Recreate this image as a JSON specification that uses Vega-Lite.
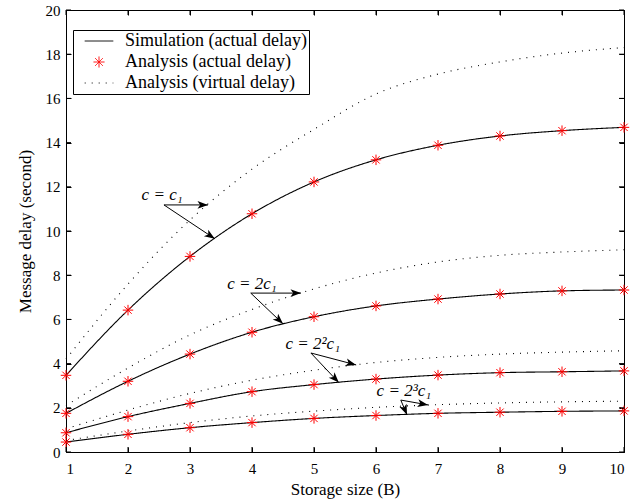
{
  "$schema": "https://vega.github.io/schema/vega-lite/v6.json",
  "width": 558,
  "height": 442,
  "autosize": {"type": "none"},
  "padding": {"left": 66, "top": 10, "right": 20, "bottom": 50},
  "background": "white",
  "config": {
    "view": {"stroke": "black", "strokeWidth": 1},
    "font": "Liberation Serif",
    "axis": {
      "grid": false, "domain": false, "ticks": true, "tickColor": "black", "tickSize": 5, "tickWidth": 1, "tickOpacity": 1, "offset": -5, "zindex": 2,
      "labelFont": "Liberation Serif", "labelFontSize": 15, "labelColor": "black",
      "titleFont": "Liberation Serif", "titleFontSize": 17, "titleFontWeight": "normal", "titleColor": "black"
    },
    "legend": {
      "orient": "none", "legendX": 7, "legendY": 20,
      "strokeColor": "black", "fillColor": "white", "padding": 2,
      "labelFont": "Liberation Serif", "labelFontSize": 18, "labelColor": "black",
      "symbolSize": 121, "symbolStrokeWidth": 1, "symbolOffset": 15, "labelOffset": 17,
      "rowPadding": 3, "labelLimit": 400
    }
  },
  "datasets": {
    "curves": [
      {"c": "c1", "B": 1, "Simulation (actual delay)": 3.47, "Analysis (actual delay)": 3.47, "Analysis (virtual delay)": 4.2},
      {"c": "c1", "B": 2, "Simulation (actual delay)": 6.42, "Analysis (actual delay)": 6.42, "Analysis (virtual delay)": 7.6},
      {"c": "c1", "B": 3, "Simulation (actual delay)": 8.85, "Analysis (actual delay)": 8.85, "Analysis (virtual delay)": 10.5},
      {"c": "c1", "B": 4, "Simulation (actual delay)": 10.78, "Analysis (actual delay)": 10.78, "Analysis (virtual delay)": 12.8},
      {"c": "c1", "B": 5, "Simulation (actual delay)": 12.22, "Analysis (actual delay)": 12.22, "Analysis (virtual delay)": 14.6},
      {"c": "c1", "B": 6, "Simulation (actual delay)": 13.22, "Analysis (actual delay)": 13.22, "Analysis (virtual delay)": 16.2},
      {"c": "c1", "B": 7, "Simulation (actual delay)": 13.88, "Analysis (actual delay)": 13.88, "Analysis (virtual delay)": 17.1},
      {"c": "c1", "B": 8, "Simulation (actual delay)": 14.3, "Analysis (actual delay)": 14.3, "Analysis (virtual delay)": 17.65},
      {"c": "c1", "B": 9, "Simulation (actual delay)": 14.54, "Analysis (actual delay)": 14.54, "Analysis (virtual delay)": 18.05},
      {"c": "c1", "B": 10, "Simulation (actual delay)": 14.69, "Analysis (actual delay)": 14.69, "Analysis (virtual delay)": 18.3},
      {"c": "2c1", "B": 1, "Simulation (actual delay)": 1.75, "Analysis (actual delay)": 1.75, "Analysis (virtual delay)": 2.1},
      {"c": "2c1", "B": 2, "Simulation (actual delay)": 3.2, "Analysis (actual delay)": 3.2, "Analysis (virtual delay)": 3.8},
      {"c": "2c1", "B": 3, "Simulation (actual delay)": 4.43, "Analysis (actual delay)": 4.43, "Analysis (virtual delay)": 5.3},
      {"c": "2c1", "B": 4, "Simulation (actual delay)": 5.42, "Analysis (actual delay)": 5.42, "Analysis (virtual delay)": 6.45},
      {"c": "2c1", "B": 5, "Simulation (actual delay)": 6.12, "Analysis (actual delay)": 6.12, "Analysis (virtual delay)": 7.38},
      {"c": "2c1", "B": 6, "Simulation (actual delay)": 6.61, "Analysis (actual delay)": 6.61, "Analysis (virtual delay)": 8.1},
      {"c": "2c1", "B": 7, "Simulation (actual delay)": 6.92, "Analysis (actual delay)": 6.92, "Analysis (virtual delay)": 8.6},
      {"c": "2c1", "B": 8, "Simulation (actual delay)": 7.15, "Analysis (actual delay)": 7.15, "Analysis (virtual delay)": 8.9},
      {"c": "2c1", "B": 9, "Simulation (actual delay)": 7.29, "Analysis (actual delay)": 7.29, "Analysis (virtual delay)": 9.05},
      {"c": "2c1", "B": 10, "Simulation (actual delay)": 7.33, "Analysis (actual delay)": 7.33, "Analysis (virtual delay)": 9.15},
      {"c": "4c1", "B": 1, "Simulation (actual delay)": 0.87, "Analysis (actual delay)": 0.87, "Analysis (virtual delay)": 1.05},
      {"c": "4c1", "B": 2, "Simulation (actual delay)": 1.6, "Analysis (actual delay)": 1.6, "Analysis (virtual delay)": 1.9},
      {"c": "4c1", "B": 3, "Simulation (actual delay)": 2.2, "Analysis (actual delay)": 2.2, "Analysis (virtual delay)": 2.65},
      {"c": "4c1", "B": 4, "Simulation (actual delay)": 2.73, "Analysis (actual delay)": 2.73, "Analysis (virtual delay)": 3.25},
      {"c": "4c1", "B": 5, "Simulation (actual delay)": 3.05, "Analysis (actual delay)": 3.05, "Analysis (virtual delay)": 3.7},
      {"c": "4c1", "B": 6, "Simulation (actual delay)": 3.3, "Analysis (actual delay)": 3.3, "Analysis (virtual delay)": 4.05},
      {"c": "4c1", "B": 7, "Simulation (actual delay)": 3.48, "Analysis (actual delay)": 3.48, "Analysis (virtual delay)": 4.28},
      {"c": "4c1", "B": 8, "Simulation (actual delay)": 3.59, "Analysis (actual delay)": 3.59, "Analysis (virtual delay)": 4.43},
      {"c": "4c1", "B": 9, "Simulation (actual delay)": 3.63, "Analysis (actual delay)": 3.63, "Analysis (virtual delay)": 4.52},
      {"c": "4c1", "B": 10, "Simulation (actual delay)": 3.67, "Analysis (actual delay)": 3.67, "Analysis (virtual delay)": 4.58},
      {"c": "8c1", "B": 1, "Simulation (actual delay)": 0.45, "Analysis (actual delay)": 0.45, "Analysis (virtual delay)": 0.52},
      {"c": "8c1", "B": 2, "Simulation (actual delay)": 0.8, "Analysis (actual delay)": 0.8, "Analysis (virtual delay)": 0.95},
      {"c": "8c1", "B": 3, "Simulation (actual delay)": 1.1, "Analysis (actual delay)": 1.1, "Analysis (virtual delay)": 1.33},
      {"c": "8c1", "B": 4, "Simulation (actual delay)": 1.33, "Analysis (actual delay)": 1.33, "Analysis (virtual delay)": 1.63},
      {"c": "8c1", "B": 5, "Simulation (actual delay)": 1.52, "Analysis (actual delay)": 1.52, "Analysis (virtual delay)": 1.85},
      {"c": "8c1", "B": 6, "Simulation (actual delay)": 1.65, "Analysis (actual delay)": 1.65, "Analysis (virtual delay)": 2.02},
      {"c": "8c1", "B": 7, "Simulation (actual delay)": 1.75, "Analysis (actual delay)": 1.75, "Analysis (virtual delay)": 2.14},
      {"c": "8c1", "B": 8, "Simulation (actual delay)": 1.8, "Analysis (actual delay)": 1.8, "Analysis (virtual delay)": 2.22},
      {"c": "8c1", "B": 9, "Simulation (actual delay)": 1.84, "Analysis (actual delay)": 1.84, "Analysis (virtual delay)": 2.27},
      {"c": "8c1", "B": 10, "Simulation (actual delay)": 1.86, "Analysis (actual delay)": 1.86, "Analysis (virtual delay)": 2.3}
    ],
    "arrows": [
      {"xs": 2.58, "ys": 11.18, "xe": 3.29, "ye": 11.18},
      {"xs": 2.58, "ys": 11.18, "xe": 3.4, "ye": 9.65},
      {"xs": 3.98, "ys": 7.19, "xe": 4.79, "ye": 7.19},
      {"xs": 3.98, "ys": 7.19, "xe": 4.5, "ye": 5.8},
      {"xs": 4.95, "ys": 4.48, "xe": 5.68, "ye": 3.94},
      {"xs": 4.95, "ys": 4.48, "xe": 5.4, "ye": 3.14},
      {"xs": 6.4, "ys": 2.35, "xe": 6.84, "ye": 2.13},
      {"xs": 6.4, "ys": 2.35, "xe": 6.5, "ye": 1.68}
    ],
    "labels": [
      {"label": "c = c₁", "x": 2.55, "y": 11.4},
      {"label": "c = 2c₁", "x": 4.0, "y": 7.38},
      {"label": "c = 2²c₁", "x": 4.98, "y": 4.66},
      {"label": "c = 2³c₁", "x": 6.45, "y": 2.53}
    ],
    "xticks": [{"v": 1}, {"v": 2}, {"v": 3}, {"v": 4}, {"v": 5}, {"v": 6}, {"v": 7}, {"v": 8}, {"v": 9}, {"v": 10}],
    "yticks": [{"v": 0}, {"v": 2}, {"v": 4}, {"v": 6}, {"v": 8}, {"v": 10}, {"v": 12}, {"v": 14}, {"v": 16}, {"v": 18}, {"v": 20}]
  },
  "layer": [
    {
      "data": {"name": "curves"},
      "transform": [{"fold": ["Simulation (actual delay)", "Analysis (virtual delay)"], "as": ["series", "delay"]}],
      "mark": {"type": "line", "strokeWidth": 1.1, "interpolate": "monotone"},
      "encoding": {
        "x": {"field": "B", "type": "quantitative", "scale": {"domain": [1, 10], "nice": false, "zero": false},
              "axis": {"orient": "bottom", "title": "Storage size (B)", "values": [1,2,3,4,5,6,7,8,9,10], "labelPadding": 9, "titlePadding": 5,
                       "ticks": true, "tickSize": 5, "tickColor": "black", "tickWidth": 1}},
        "y": {"field": "delay", "type": "quantitative", "scale": {"domain": [0, 20], "nice": false},
              "axis": {"orient": "left", "title": "Message delay (second)", "values": [0,2,4,6,8,10,12,14,16,18,20], "labelPadding": 6, "titlePadding": 11,
                       "ticks": true, "tickSize": 5, "tickColor": "black", "tickWidth": 1}},
        "detail": {"field": "c", "type": "nominal"},
        "color": {"field": "series", "type": "nominal",
                  "scale": {"domain": ["Simulation (actual delay)", "Analysis (actual delay)", "Analysis (virtual delay)"], "range": ["black", "red", "black"]},
                  "legend": {"title": null}},
        "strokeDash": {"field": "series", "type": "nominal",
                  "scale": {"domain": ["Simulation (actual delay)", "Analysis (actual delay)", "Analysis (virtual delay)"], "range": [[1, 0], [1, 0], [1, 6]]},
                  "legend": {"title": null}}
      }
    },
    {
      "data": {"name": "curves"},
      "transform": [{"fold": ["Analysis (actual delay)"], "as": ["series", "delay"]}],
      "mark": {"type": "point", "filled": false, "strokeWidth": 1, "size": 110, "opacity": 1},
      "encoding": {
        "x": {"field": "B", "type": "quantitative", "axis": {"orient": "top", "labels": false, "title": null, "values": [1,2,3,4,5,6,7,8,9,10],
                       "ticks": true, "tickSize": 5, "tickColor": "black", "tickWidth": 1}},
        "y": {"field": "delay", "type": "quantitative", "axis": {"orient": "right", "labels": false, "title": null, "values": [0,2,4,6,8,10,12,14,16,18,20],
                       "ticks": true, "tickSize": 5, "tickColor": "black", "tickWidth": 1}},
        "color": {"field": "series", "type": "nominal",
                  "scale": {"domain": ["Simulation (actual delay)", "Analysis (actual delay)", "Analysis (virtual delay)"], "range": ["black", "red", "black"]},
                  "legend": {"title": null}},
        "shape": {"field": "series", "type": "nominal",
                  "scale": {"domain": ["Simulation (actual delay)", "Analysis (actual delay)", "Analysis (virtual delay)"],
                            "range": ["M-2.6,0L2.6,0", "M-1,0L1,0M0,-1L0,1M-0.7,-0.7L0.7,0.7M-0.7,0.7L0.7,-0.7", "M-2.6,0L2.6,0"]},
                  "legend": {"title": null}}
      }
    },
    {
      "data": {"name": "xticks"},
      "mark": {"type": "tick", "orient": "vertical", "thickness": 1, "color": "black", "opacity": 1, "yOffset": -2.5},
      "encoding": {
        "x": {"field": "v", "type": "quantitative", "axis": null},
        "y": {"datum": 0, "type": "quantitative", "axis": null},
        "size": {"value": 5}
      }
    },
    {
      "data": {"name": "xticks"},
      "mark": {"type": "tick", "orient": "vertical", "thickness": 1, "color": "black", "opacity": 1, "yOffset": 2.5},
      "encoding": {
        "x": {"field": "v", "type": "quantitative", "axis": null},
        "y": {"datum": 20, "type": "quantitative", "axis": null},
        "size": {"value": 5}
      }
    },
    {
      "data": {"name": "yticks"},
      "mark": {"type": "tick", "orient": "horizontal", "thickness": 1, "color": "black", "opacity": 1, "xOffset": 2.5},
      "encoding": {
        "y": {"field": "v", "type": "quantitative", "axis": null},
        "x": {"datum": 1, "type": "quantitative", "axis": null},
        "size": {"value": 5}
      }
    },
    {
      "data": {"name": "yticks"},
      "mark": {"type": "tick", "orient": "horizontal", "thickness": 1, "color": "black", "opacity": 1, "xOffset": -2.5},
      "encoding": {
        "y": {"field": "v", "type": "quantitative", "axis": null},
        "x": {"datum": 10, "type": "quantitative", "axis": null},
        "size": {"value": 5}
      }
    },
    {
      "data": {"name": "arrows"},
      "mark": {"type": "rule", "strokeWidth": 1, "color": "black"},
      "encoding": {
        "x": {"field": "xs", "type": "quantitative", "axis": null},
        "y": {"field": "ys", "type": "quantitative", "axis": null},
        "x2": {"field": "xe"},
        "y2": {"field": "ye"}
      }
    },
    {
      "data": {"name": "arrows"},
      "mark": {"type": "point", "filled": true, "color": "black", "opacity": 1, "size": 110,
               "shape": "M0,0L-2,-0.75L-1.5,0L-2,0.75Z",
               "angle": {"expr": "atan2(scale('y', datum.ye) - scale('y', datum.ys), scale('x', datum.xe) - scale('x', datum.xs)) * 180 / PI"}},
      "encoding": {
        "x": {"field": "xe", "type": "quantitative", "axis": null},
        "y": {"field": "ye", "type": "quantitative", "axis": null}
      }
    },
    {
      "data": {"name": "labels"},
      "mark": {"type": "text", "font": "Liberation Serif", "fontStyle": "italic", "fontSize": 17, "baseline": "alphabetic", "align": "center", "color": "black"},
      "encoding": {
        "x": {"field": "x", "type": "quantitative", "axis": null},
        "y": {"field": "y", "type": "quantitative", "axis": null},
        "text": {"field": "label"}
      }
    }
  ],
  "resolve": {"axis": {"x": "independent", "y": "independent"}}
}
